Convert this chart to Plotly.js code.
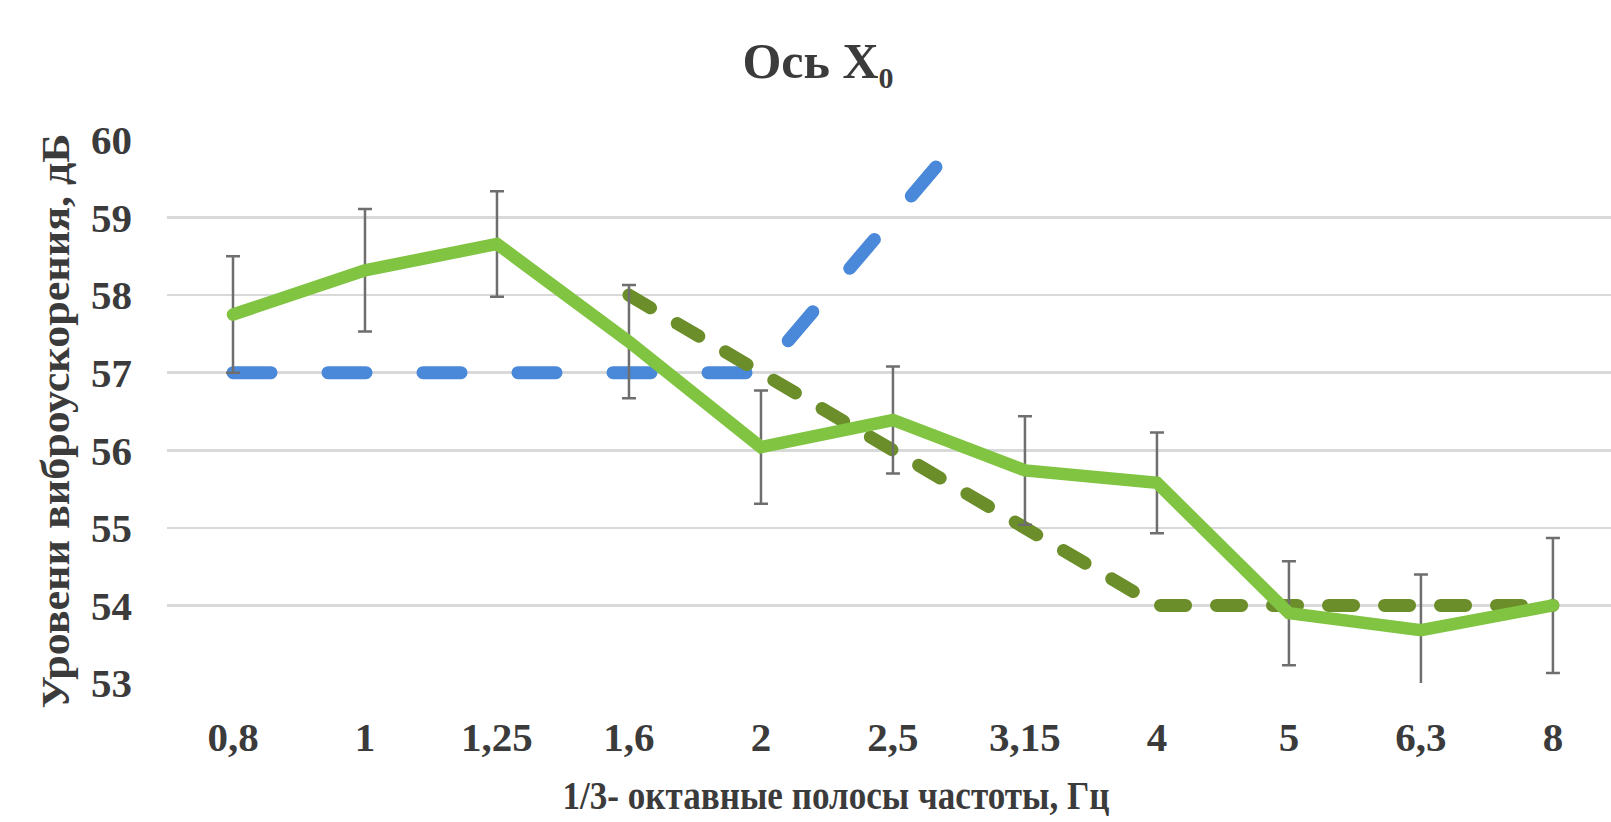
<!DOCTYPE html>
<html><head><meta charset="utf-8">
<script src="https://cdn.plot.ly/plotly-3.0.1.min.js"></script>
<style>
html,body{margin:0;padding:0;background:#fff;}
#chart{width:1611px;height:822px;}
.scatterlayer .js-line{stroke-linecap:round;}
</style></head><body><div id="chart"></div>
<script>
const categories = ['0,8','1','1,25','1,6','2','2,5','3,15','4','5','6,3','8'];
const measured = [57.75,58.32,58.66,57.40,56.04,56.39,55.74,55.58,53.90,53.68,54.00];
const measuredErr = [0.75,0.79,0.68,0.73,0.73,0.69,0.70,0.65,0.67,0.72,0.87];
const limitBlue = [57,57,57,57,57,59,61,null,null,null,null];
const limitOlive = [null,null,null,58,57,56,55,54,54,54,54];

const FONT = 'Liberation Serif, Times New Roman, serif';
const TXT = '#3b3b3b';

const traces = [
  {x: categories, y: limitBlue, type:'scatter', mode:'lines', connectgaps:false,
   line:{color:'#4a88d9', width:13, dash:'38px,57px'}, hoverinfo:'skip', showlegend:false},
  {x: categories, y: limitOlive, type:'scatter', mode:'lines', connectgaps:false,
   line:{color:'#6b8e2b', width:13, dash:'25px,31px'}, hoverinfo:'skip', showlegend:false},
  {x: categories, y: measured, type:'scatter', mode:'lines',
   line:{color:'#80c442', width:12.5},
   error_y:{type:'data', array: measuredErr, visible:true, color:'#6e6e6e', thickness:2.5, width:7},
   hoverinfo:'skip', showlegend:false}
];

const layout = {
  width:1611, height:822,
  paper_bgcolor:'#fff', plot_bgcolor:'#fff',
  margin:{l:167, r:0, t:140, b:139},
  showlegend:false,
  title:{text:'Ось X<sub><span style="font-size:30px">0</span></sub>', x:818/1611, xref:'container', xanchor:'center',
         y:1-60/822, yref:'container', yanchor:'middle',
         font:{family:FONT, size:50, color:TXT, weight:700}},
  xaxis:{type:'category', range:[-0.5,10.44], showgrid:false, zeroline:false, showline:false,
         ticks:'', ticklabelstandoff:26, automargin:false,
         tickfont:{family:FONT, size:41, color:TXT, weight:700},
         title:{text:'1/3- октавные полосы частоты, Гц', standoff:21,
                font:{family:FONT, size:41, color:TXT, weight:700}}},
  yaxis:{range:[53,60], dtick:1, tick0:53, showgrid:true, gridcolor:'#d9d9d9', gridwidth:2.5,
         zeroline:false, showline:false, ticks:'', ticklabelstandoff:34, automargin:false,
         tickfont:{family:FONT, size:41, color:TXT, weight:700},
         title:{text:'Уровени виброускорения, дБ', standoff:8,
                font:{family:FONT, size:41, color:TXT, weight:700}}}
};

Plotly.newPlot('chart', traces, layout, {staticPlot:true, displayModeBar:false}).then(function(gd){
  // match the condensed / stretched lettering of the reference axis titles
  var xt = gd.querySelector('text.xtitle');
  if (xt) {
    xt.setAttribute('x', 836);
    xt.setAttribute('textLength', 547);
    xt.setAttribute('lengthAdjust', 'spacingAndGlyphs');
  }
  var yt = gd.querySelector('text.ytitle');
  if (yt) {
    var x = yt.getAttribute('x');
    yt.setAttribute('y', 421);
    yt.setAttribute('transform', 'rotate(-90,' + x + ',421)');
    yt.setAttribute('textLength', 575);
    yt.setAttribute('lengthAdjust', 'spacingAndGlyphs');
  }
});
</script></body></html>
